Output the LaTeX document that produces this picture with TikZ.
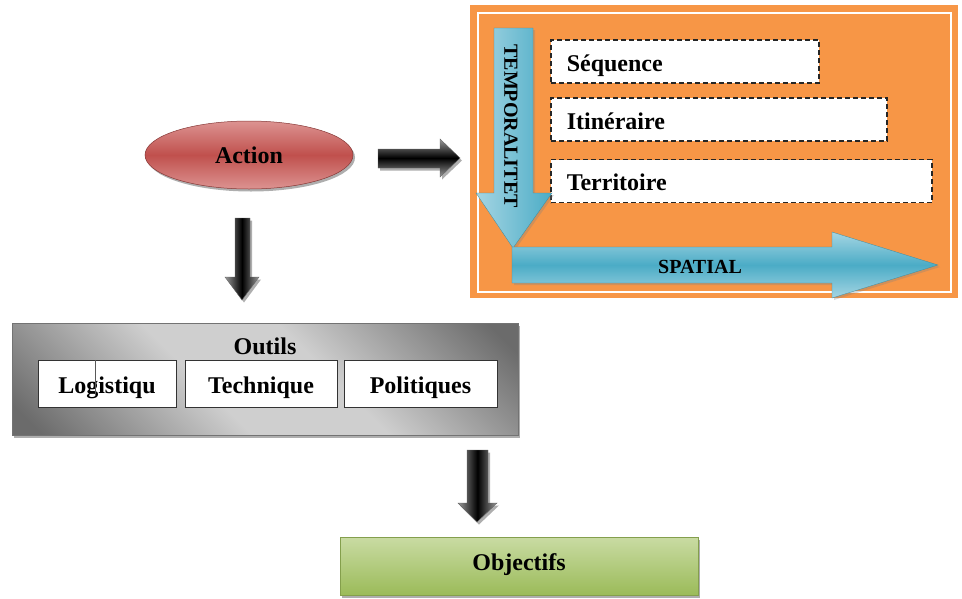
\documentclass[tikz,border=0pt]{standalone}
\usepackage{fontspec}
\setmainfont{Liberation Serif}
\usetikzlibrary{shapes.geometric,shadows}
\definecolor{orng}{HTML}{F79646}
\definecolor{redm}{HTML}{C0504D}
\definecolor{redl}{HTML}{DC9391}
\definecolor{bluem}{HTML}{4BACC6}
\definecolor{bluel}{HTML}{A5D5E3}
\definecolor{greenm}{HTML}{9BBB59}
\definecolor{greenl}{HTML}{C9DBA3}
\colorlet{blkl}{black!40}
\colorlet{grd}{black!58}
\colorlet{grl}{black!19}
\pgfdeclareverticalshading{redsh}{100bp}{color(0bp)=(redl); color(25bp)=(redl); color(50bp)=(redm); color(75bp)=(redl); color(100bp)=(redl)}
\pgfdeclareverticalshading{blkvsh}{100bp}{color(0bp)=(blkl); color(25bp)=(blkl); color(50bp)=(black); color(75bp)=(blkl); color(100bp)=(blkl)}
\pgfdeclarehorizontalshading{blkhsh}{100bp}{color(0bp)=(blkl); color(25bp)=(blkl); color(50bp)=(black); color(75bp)=(blkl); color(100bp)=(blkl)}
\pgfdeclareverticalshading{bluesh}{100bp}{color(0bp)=(bluel); color(25bp)=(bluel); color(50bp)=(bluem); color(75bp)=(bluel); color(100bp)=(bluel)}
\pgfdeclarehorizontalshading{graysh}{100bp}{color(0bp)=(grd); color(18bp)=(grd); color(42bp)=(grl); color(58bp)=(grl); color(82bp)=(grd); color(100bp)=(grd)}
\tikzset{
  big/.style={font=\fontsize{24}{28}\selectfont\bfseries},
  mid/.style={font=\fontsize{20}{24}\selectfont\bfseries},
  shade/.style={drop shadow={shadow xshift=2pt,shadow yshift=-2.5pt,opacity=0.45,fill=black!70}},
  dashbox/.style={draw=black!85,dash pattern=on 5pt off 3pt,line width=1.5pt,fill=white,minimum height=43pt,
    align=left,inner xsep=16pt,inner ysep=0pt,anchor=west,big,text height=22pt,text depth=3pt},
  toolbox/.style={draw=black!80,line width=0.9pt,fill=white,minimum height=47pt,big,inner sep=0pt,
    text height=23pt,text depth=3pt},
  blackarrowv/.style={shading=blkhsh,draw=black!60,line width=0.4pt,shade},
  blackarrowh/.style={shading=blkvsh,draw=black!60,line width=0.4pt,shade},
}
\begin{document}
\begin{tikzpicture}[x=1pt,y=-1pt]
\useasboundingbox (0,0) rectangle (962,598);
% orange frame
\node[fill=orng,minimum width=488pt,minimum height=293pt,anchor=north west,inner sep=0pt] (frame) at (470,5) {};
\draw[white,line width=2.5pt] (478,13) rectangle (951,292);
% dashed boxes
\node[dashbox,text width=236pt] (seq) at (550,61.5) {Séquence};
\node[dashbox,text width=304pt] (itin) at (550,119.5) {Itinéraire};
\node[dashbox,text width=349pt] (terr) at (550,181) {Territoire};
% temporalite arrow
\path[left color=bluel,right color=bluem,draw=bluem!80!black,line width=0.3pt,
  drop shadow={shadow xshift=2pt,shadow yshift=-2pt,opacity=0.3}]
  (494,28) -- (533,28) -- (533,193) -- (552,193) -- (513,248) -- (476,193) -- (494,193) -- cycle;
\node[mid,rotate=-90] (temp) at (511,126) {TEMPORALITET};
% spatial arrow
\path[shading=bluesh,draw=bluem!80!black,line width=0.3pt,
  drop shadow={shadow xshift=2pt,shadow yshift=-2pt,opacity=0.3}]
  (512,247) -- (832,247) -- (832,232) -- (938,265) -- (832,298) -- (832,283) -- (512,283) -- cycle;
\node[mid] (spat) at (700,267) {SPATIAL};
% action
\node[ellipse,minimum width=208pt,minimum height=68pt,shading=redsh,
  draw=redm!70!black,line width=0.5pt,shade,big] (action) at (249,155) {Action};
% black arrows
\path[blackarrowh] (378,149) -- (440,149) -- (440,139) -- (460,158) -- (440,177) -- (440,168) -- (378,168) -- cycle;
\path[blackarrowv] (235,218) -- (250,218) -- (250,277) -- (259,277) -- (242,300) -- (225,277) -- (235,277) -- cycle;
\path[blackarrowv] (467,450) -- (488,450) -- (488,503) -- (497,503) -- (477,522) -- (458,503) -- (467,503) -- cycle;
% outils
\node[minimum width=506pt,minimum height=112pt,anchor=north west,inner sep=0pt,
  shading=graysh,shading angle=45,
  draw=black!55,line width=0.6pt,shade] (outils) at (12,323) {};
\node[big] (outilsl) at (265,346) {Outils};
\node[toolbox,minimum width=138pt] (log) at (107,383.5) {Logistiqu};
\node[toolbox,minimum width=152pt] (tech) at (261,383.5) {Technique};
\node[toolbox,minimum width=153pt] (pol) at (420.5,383.5) {Politiques};
\draw[black!65,line width=0.8pt] (95,360) -- (95,396);
% objectifs
\node[minimum width=358pt,minimum height=58pt,top color=greenl,bottom color=greenm,
  draw=greenm!85!black,line width=0.6pt,shade,big,text height=13pt,text depth=5pt] (obj) at (519,566) {Objectifs};
\end{tikzpicture}
\end{document}
